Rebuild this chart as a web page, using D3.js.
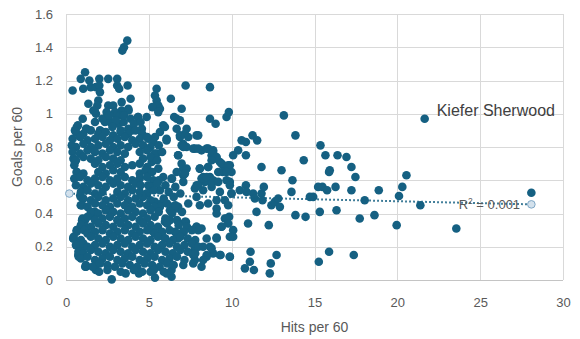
<!DOCTYPE html>
<html>
<head>
<meta charset="utf-8">
<script src="https://cdn.jsdelivr.net/npm/d3@7"></script>
<style>
  html, body { margin: 0; padding: 0; background: #fff; }
  svg { display: block; font-family: "Liberation Sans", Arial, sans-serif; }
</style>
</head>
<body>
<svg id="chart" width="580" height="339"></svg>
<script>
// Axis ticks
const xTicks = [0, 5, 10, 15, 20, 25, 30];
const yTicks = [0, 0.2, 0.4, 0.6, 0.8, 1, 1.2, 1.4, 1.6];

// Players: [hits per 60, goals per 60] — scattered players
const players = [
  [3.7,1.44],[3.5,1.40],[3.4,1.38],
  [0.40,1.14],[0.89,1.21],[1.15,1.25],[1.41,1.20],[1.04,1.15],[1.49,1.16],[1.81,1.16],[2.01,1.21],[2.01,1.17],
  [2.05,1.13],[2.55,1.21],[3.09,1.21],[3.09,1.17],[3.21,1.15],[3.72,1.17],[3.90,1.09],[1.95,1.08],[1.89,1.05],
  [1.35,1.06],[1.65,1.02],[1.81,1.00],[2.55,1.05],[2.85,1.05],[3.36,1.07],[3.36,1.02],[3.76,1.03],[2.96,1.00],
  [2.45,1.01],[4.36,0.98],[4.87,0.98],[5.47,1.15],[5.37,1.11],[5.47,1.08],[5.57,1.05],[5.21,1.04],[5.67,1.03],
  [5.57,1.01],[6.33,1.09],[7.22,1.17],[8.69,1.16],[6.98,1.03],[6.68,0.97],[6.53,0.98],[6.88,0.96],[1.01,0.97],
  [0.65,0.92],[1.25,0.91],[1.75,0.95],[2.05,0.90],[2.65,0.95],[3.15,0.94],[3.76,0.91],[2.45,0.98],[5.87,0.93],
  [5.67,0.89],[5.97,0.92],[6.68,0.91],[7.28,0.91],[7.18,0.88],[6.88,0.87],[7.98,0.87],[8.69,0.97],[9.03,0.94],
  [9.69,0.98],[9.83,1.01],[5.37,0.86],[6.07,0.85],[7.07,0.82],[7.38,0.86],[1.73,1.02],[3.78,1.02],[2.96,1.01],
  [3.26,0.99],[4.34,0.98],[0.72,0.93],[0.54,0.90],[1.21,0.91],[2.35,0.95],[3.48,0.95],[4.58,0.91],[2.17,0.89],
  [3.98,0.90],[2.2,0.97],[2.6,0.99],[3.0,0.96],[3.5,0.99],[3.9,0.97],[2.8,0.92],[3.3,0.90],[4.1,0.94],[4.5,0.95],
  [13.15,0.99],[10.6,0.84],[11.26,0.87],[10.86,0.83],[11.54,0.84],[13.85,0.87],[15.36,0.81],[6.98,0.81],[7.28,0.80],
  [7.78,0.79],[8.18,0.78],[8.49,0.79],[8.88,0.78],[10.39,0.78],[10.09,0.75],[10.86,0.75],[6.77,0.75],[8.79,0.75],
  [9.09,0.73],[9.29,0.71],[9.49,0.69],[9.89,0.69],[9.99,0.65],[9.45,0.65],[14.35,0.72],[15.66,0.75],[16.39,0.75],
  [16.93,0.74],[17.23,0.68],[15.92,0.66],[15.88,0.65],[17.47,0.62],[11.8,0.68],[13.01,0.66],[13.67,0.60],[7.08,0.67],
  [8.08,0.67],[8.58,0.68],[7.08,0.63],[8.28,0.62],[8.69,0.62],[8.38,0.59],[7.88,0.57],[7.78,0.55],[8.79,0.56],
  [8.88,0.60],[9.69,0.60],[9.89,0.59],[9.99,0.52],[10.49,0.54],[10.86,0.57],[10.9,0.53],[11.3,0.52],[11.4,0.49],
  [11.8,0.52],[11.94,0.56],[11.86,0.48],[12.4,0.45],[12.6,0.47],[12.81,0.49],[12.91,0.44],[13.61,0.53],[14.72,0.50],
  [14.92,0.50],[15.22,0.56],[15.48,0.56],[15.76,0.54],[16.27,0.56],[17.23,0.54],[18.03,0.48],[13.85,0.39],[14.46,0.38],
  [15.32,0.41],[16.33,0.42],[17.73,0.37],[10.99,0.34],[11.5,0.41],[12.24,0.33],[10.09,0.30],[10.09,0.26],[9.59,0.37],
  [9.85,0.38],[9.39,0.32],[7.98,0.31],[8.18,0.31],[8.49,0.25],[9.09,0.25],[11.14,0.17],[12.71,0.15],[15.88,0.17],
  [15.26,0.11],[17.37,0.15],[11.1,0.11],[10.8,0.07],[11.34,0.06],[12.36,0.10],[12.3,0.04],[9.89,0.14],[9.33,0.15],
  [8.88,0.16],[8.69,0.20],[8.28,0.20],[8.49,0.14],[8.18,0.08],[7.78,0.12],[7.08,0.09],[7.68,0.16],[7.24,0.35],
  [7.88,0.32],[7.08,0.29],[6.68,0.28],[6.37,0.02],
  [4.96,0.85],[5.27,0.83],[6.07,0.84],[6.88,0.86],[7.88,0.87],[7.08,0.80],[7.68,0.79],[7.98,0.79],[8.58,0.79],
  [8.88,0.77],[5.47,0.76],[6.77,0.75],[9.09,0.74],[8.79,0.72],[9.39,0.70],[9.79,0.69],[9.69,0.65],[9.19,0.65],
  [5.17,0.71],[5.57,0.67],[6.98,0.70],[7.28,0.67],[6.68,0.65],[7.18,0.64],[8.08,0.67],[8.58,0.68],[5.87,0.62],
  [6.37,0.61],[5.27,0.60],[7.08,0.59],[8.18,0.61],[8.49,0.62],[8.79,0.58],[7.98,0.57],[9.19,0.59],[9.89,0.57],
  [8.28,0.54],[9.29,0.53],[9.99,0.52],[7.88,0.50],[7.38,0.46],[6.77,0.44],[6.37,0.44],[9.59,0.48],[9.09,0.48],
  [8.58,0.46],[9.79,0.45],[4.96,0.57],[5.67,0.54],[5.37,0.47],[4.87,0.52],[5.77,0.46],
  [5.67,0.44],[6.27,0.42],[6.68,0.43],[8.08,0.45],[9.09,0.43],[9.09,0.40],[9.69,0.37],[9.79,0.34],[9.39,0.32],
  [5.97,0.35],[6.27,0.36],[7.18,0.35],[7.88,0.32],[7.98,0.30],[5.27,0.29],[5.77,0.28],[6.57,0.29],[7.08,0.29],
  [9.09,0.255],[9.89,0.26],[5.97,0.25],[6.77,0.25],[7.78,0.19],[8.79,0.19],[9.29,0.15],[9.89,0.14],[7.68,0.15],
  [8.49,0.15],[8.28,0.12],[7.68,0.10],[6.37,0.06],[5.37,0.014],[6.07,0.04],
  [21.65,0.97],[20.55,0.63],[20.3,0.56],[20.1,0.505],[18.88,0.54],[18.62,0.39],[19.96,0.33],[21.39,0.45],
  [23.56,0.31],[28.09,0.525],
  [0.54,0.71],[0.65,0.65],[0.89,0.50],[0.89,0.45],[1.15,0.36],[0.65,0.30],[0.44,0.25],[0.74,0.15],[0.95,0.19],
  [1.21,0.08],[2.76,0.004],[1.65,0.38],[1.75,0.41],[0.97,0.36],[1.16,0.32],[0.66,0.30],[0.46,0.26],[0.86,0.23],
  [0.77,0.14],[1.16,0.08],[1.77,0.07],[3.6,0.04],[4.4,0.04],[5.1,0.05],[1.8,0.06],[0.86,0.51],[0.97,0.45]
];

// Players: [hits per 60, goals per 60] — the crowded low-hit core
const corePlayers = [
  [0.6,0.89],[1.05,0.88],[1.5,0.90],[1.95,0.88],[2.4,0.89],[2.85,0.87],[3.3,0.89],[3.75,0.88],[4.2,0.90],[4.6,0.88],
  [0.4,0.85],[0.85,0.86],[1.3,0.84],[1.75,0.85],[2.2,0.86],[2.65,0.84],[3.1,0.85],[3.55,0.86],[4.0,0.84],[4.45,0.85],[4.9,0.86],
  [0.35,0.81],[0.6,0.80],[1.05,0.82],[1.5,0.80],[1.95,0.81],[2.4,0.82],[2.85,0.80],[3.3,0.81],[3.75,0.80],[4.2,0.82],[4.65,0.81],[5.1,0.80],[5.6,0.81],
  [0.4,0.77],[0.85,0.76],[1.3,0.78],[1.75,0.77],[2.2,0.76],[2.65,0.78],[3.1,0.77],[3.55,0.76],[4.45,0.77],[4.9,0.78],[5.35,0.76],[5.8,0.77],
  [0.45,0.73],[0.6,0.72],[1.05,0.74],[1.5,0.73],[1.95,0.72],[2.4,0.74],[2.85,0.73],[3.3,0.72],[4.65,0.73],[5.1,0.74],[5.5,0.72],
  [0.5,0.69],[1.75,0.70],[2.2,0.68],[2.65,0.69],[3.1,0.70],[3.55,0.68],[4.0,0.69],[4.45,0.70],[4.9,0.68],
  [0.65,0.65],[1.05,0.64],[1.95,0.65],[2.4,0.64],[2.85,0.66],[3.3,0.65],[4.45,0.64],[4.8,0.66],[5.2,0.65],
  [0.5,0.61],[0.85,0.62],[1.3,0.60],[1.75,0.61],[2.2,0.62],[2.65,0.60],[3.1,0.61],[3.55,0.62],[4.0,0.60],[4.45,0.61],[4.9,0.62],[5.6,0.60],[6.4,0.61],
  [0.6,0.57],[1.05,0.56],[1.5,0.58],[1.95,0.57],[2.4,0.56],[2.85,0.58],[3.3,0.57],[3.75,0.56],[4.2,0.58],[4.5,0.57],[5.1,0.56],[5.5,0.58],[6.0,0.57],[6.6,0.56],
  [0.9,0.53],[1.3,0.54],[1.75,0.52],[2.2,0.53],[3.1,0.53],[3.55,0.52],[4.0,0.54],[4.45,0.53],[4.9,0.52],[5.3,0.54],[6.2,0.53],[6.9,0.52],
  [1.05,0.49],[1.5,0.48],[1.95,0.50],[2.4,0.48],[2.85,0.49],[3.3,0.50],[3.75,0.48],[4.2,0.49],[4.65,0.50],[5.1,0.48],[5.9,0.49],[6.5,0.50],
  [0.95,0.45],[1.3,0.44],[1.75,0.46],[2.2,0.45],[2.65,0.44],[3.1,0.46],[3.55,0.45],[4.0,0.44],[4.45,0.46],[4.9,0.45],[5.35,0.44],[6.1,0.46],[6.6,0.45],
  [1.5,0.41],[1.95,0.40],[2.4,0.42],[2.85,0.41],[3.3,0.40],[3.75,0.42],[4.2,0.41],[4.65,0.40],[5.1,0.42],[5.6,0.41],[6.4,0.40],[7.0,0.41],
  [1.0,0.37],[1.3,0.38],[1.75,0.36],[2.2,0.37],[2.65,0.38],[3.1,0.36],[3.55,0.37],[4.0,0.38],[4.45,0.36],[4.9,0.37],[5.35,0.38],[6.0,0.37],[6.7,0.36],
  [0.9,0.33],[1.5,0.32],[1.95,0.34],[2.4,0.33],[2.85,0.32],[3.3,0.34],[3.75,0.33],[4.2,0.32],[4.65,0.34],[5.1,0.33],[5.55,0.32],[6.1,0.34],[6.8,0.33],[7.3,0.32],
  [0.65,0.29],[1.1,0.30],[1.3,0.28],[1.75,0.29],[2.2,0.30],[2.65,0.28],[3.1,0.29],[3.55,0.30],[4.0,0.28],[4.45,0.29],[4.9,0.30],[5.35,0.28],[5.8,0.29],[6.25,0.30],[6.7,0.28],[7.1,0.29],[7.6,0.30],
  [0.45,0.25],[0.9,0.24],[1.5,0.26],[1.95,0.25],[2.4,0.24],[2.85,0.26],[3.3,0.25],[3.75,0.24],[4.2,0.26],[4.65,0.25],[5.1,0.24],[5.55,0.26],[6.0,0.25],[6.45,0.24],[6.9,0.26],[7.35,0.25],[7.8,0.24],
  [0.6,0.21],[1.05,0.22],[1.3,0.20],[1.75,0.21],[2.2,0.22],[2.65,0.20],[3.1,0.21],[3.55,0.22],[4.0,0.20],[4.45,0.21],[4.9,0.22],[5.35,0.20],[5.8,0.21],[6.25,0.22],[6.7,0.20],[7.15,0.21],[7.6,0.22],[8.0,0.20],
  [0.75,0.17],[1.05,0.16],[1.5,0.18],[1.95,0.17],[2.4,0.16],[2.85,0.18],[3.3,0.17],[3.75,0.16],[4.2,0.18],[4.65,0.17],[5.1,0.16],[5.55,0.18],[6.0,0.17],[6.45,0.16],[6.9,0.18],[7.35,0.17],[7.8,0.16],
  [0.9,0.13],[1.3,0.14],[1.75,0.12],[2.2,0.13],[2.65,0.14],[3.1,0.12],[3.55,0.13],[4.0,0.14],[4.45,0.12],[4.9,0.13],[5.35,0.14],[5.8,0.12],[6.25,0.13],[6.7,0.14],[7.15,0.12],
  [1.2,0.09],[1.6,0.08],[2.05,0.10],[2.5,0.09],[2.95,0.08],[3.4,0.10],[3.85,0.09],[4.3,0.08],[4.75,0.10],[5.2,0.09],[5.65,0.08],[6.1,0.10],[6.5,0.09],
  [2.0,0.05],[2.5,0.06],[3.3,0.05],[4.1,0.06],[4.6,0.05],[5.3,0.06],[5.9,0.05]
];

// Linear trendline ends and its fit
const trendEnds = [[0.2, 0.52], [28.09, 0.455]];
const rSquared = "0.001";

// Labelled player
const callout = { name: "Kiefer Sherwood", x: 21.65, y: 0.97 };

const svg = d3.select("#chart");
const plot = { left: 66, right: 563, top: 14, bottom: 280 };

const x = d3.scaleLinear().domain([0, 30]).range([plot.left, plot.right]);
const y = d3.scaleLinear().domain([0, 1.6]).range([plot.bottom, plot.top]);

const gridColor = "#d9d9d9";
const labelColor = "#595959";
const markColor = "#156082";

// Vertical gridlines + x tick labels
const xAxis = d3.axisBottom(x).tickValues(xTicks)
  .tickSizeInner(-(plot.bottom - plot.top)).tickSizeOuter(0).tickPadding(18)
  .tickFormat(d3.format("d"));
const gx = svg.append("g").attr("transform", `translate(0,${plot.bottom})`).call(xAxis);
gx.select(".domain").remove();
gx.selectAll(".tick line").attr("stroke", gridColor).attr("shape-rendering", "crispEdges");
gx.selectAll(".tick text").attr("fill", labelColor).style("font-size", "13px")
  .style("font-family", "'Liberation Sans', Arial, sans-serif");

// Horizontal gridlines + y tick labels
const yAxis = d3.axisLeft(y).tickValues(yTicks)
  .tickSizeInner(-(plot.right - plot.left)).tickSizeOuter(0).tickPadding(13)
  .tickFormat(d => d3.format("~g")(d));
const gy = svg.append("g").attr("transform", `translate(${plot.left},0)`).call(yAxis);
gy.select(".domain").remove();
gy.selectAll(".tick line").attr("stroke", gridColor).attr("shape-rendering", "crispEdges");
gy.selectAll(".tick text").attr("fill", labelColor).style("font-size", "13px")
  .style("font-family", "'Liberation Sans', Arial, sans-serif");

// Horizontal axis line
svg.append("line")
  .attr("x1", plot.left).attr("x2", plot.right)
  .attr("y1", y(0)).attr("y2", y(0))
  .attr("stroke", "#c4c4c4").attr("shape-rendering", "crispEdges");

// Player markers
const allPlayers = players.concat(corePlayers);
svg.append("g").selectAll("circle")
  .data(allPlayers)
  .join("circle")
  .attr("cx", d => x(d[0]))
  .attr("cy", d => y(d[1]))
  .attr("r", 4.3)
  .attr("fill", markColor);

// Dotted linear trendline
svg.append("line")
  .attr("x1", x(trendEnds[0][0])).attr("y1", y(trendEnds[0][1]))
  .attr("x2", x(trendEnds[1][0])).attr("y2", y(trendEnds[1][1]))
  .attr("stroke", markColor).attr("stroke-width", 2)
  .attr("stroke-dasharray", "1.6,2.4");

// Trendline end handles
svg.append("g").selectAll("circle")
  .data(trendEnds)
  .join("circle")
  .attr("cx", d => x(d[0]))
  .attr("cy", d => y(d[1]))
  .attr("r", 3.8)
  .attr("fill", "#d3e1ec")
  .attr("stroke", "#7ea7c6")
  .attr("stroke-width", 1);

// R² label
const r2 = svg.append("text")
  .attr("x", x(23.7)).attr("y", y(0.427))
  .attr("fill", labelColor)
  .style("font-size", "13px");
r2.append("tspan").text("R");
r2.append("tspan").attr("dy", -5).style("font-size", "8.5px").text("2");
r2.append("tspan").attr("dy", 5).text(" = " + rSquared);

// Callout label
svg.append("text")
  .attr("x", x(callout.x) + 12).attr("y", y(callout.y) - 3)
  .attr("fill", "#404040")
  .style("font-size", "16px")
  .text(callout.name);

// Axis titles
svg.append("text")
  .attr("x", (plot.left + plot.right) / 2).attr("y", 332)
  .attr("text-anchor", "middle")
  .attr("fill", labelColor)
  .style("font-size", "14px")
  .text("Hits per 60");

svg.append("text")
  .attr("transform", `translate(22,${(plot.top + plot.bottom) / 2}) rotate(-90)`)
  .attr("text-anchor", "middle")
  .attr("fill", labelColor)
  .style("font-size", "14px")
  .text("Goals per 60");
</script>
</body>
</html>
